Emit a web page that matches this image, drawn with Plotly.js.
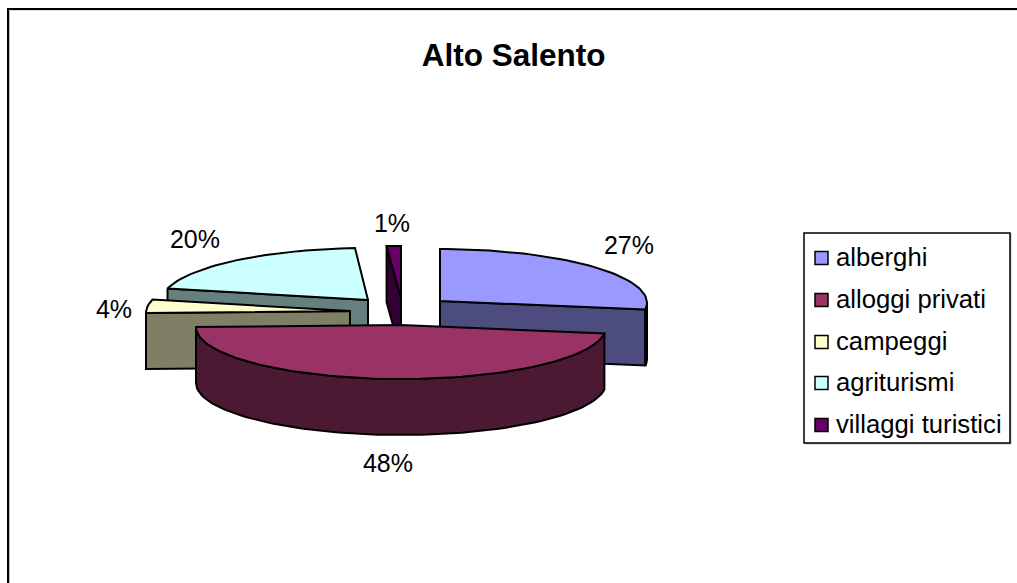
<!DOCTYPE html>
<html><head><meta charset="utf-8">
<script src="https://cdn.plot.ly/plotly-3.0.1.min.js"></script>
<style>html,body{margin:0;padding:0;background:#fff}#c{width:1017px;height:583px}</style>
</head><body><div id="c"></div>
<script>
var chartTitle = "Alto Salento";
var categories = ["alberghi","alloggi privati","campeggi","agriturismi","villaggi turistici"];
var percentages = [27,48,4,20,1];
var topColors = ["#9999FF","#993366","#FFFFCC","#CCFFFF","#660066"];
var sideColors = ["#4C4C7F","#4C1933","#7F7F66","#667F7F","#330033"];
var apexX = [440,401,350,368,401];
var apexY = [301,325,311,300,298];
var radiusX = [207,205,204,207,230];
var labelX = [629,388,114,195,392];
var labelY = [247.5,465.5,311.5,241.5,225.5];
var legendY = [258,300,342,383,425];
var legendTextY = [259.5,301.5,343.5,384.5,426.5];
var drawOrder = [3,4,0,2,1];

var RB=54, RF=52, DEPTH=56, OFF=2;
var FONT="Liberation Sans, Arial, sans-serif";
function rim(i,deg){
  var a=deg*Math.PI/180, c=Math.cos(a);
  return [apexX[i]+radiusX[i]*Math.sin(a), apexY[i]+OFF-(c>0?RB:RF)*c];
}
var starts=[], s=0;
percentages.forEach(function(p){starts.push(s); s+=p*3.6;});
function arc(i,from,to){
  var pts=[], n=Math.max(2,Math.ceil(Math.abs(to-from)/2));
  for(var k=0;k<=n;k++) pts.push(rim(i,from+(to-from)*k/n));
  return pts;
}
function poly(pts,color,name){
  var x=pts.map(function(p){return p[0]}), y=pts.map(function(p){return p[1]});
  x.push(x[0]); y.push(y[0]);
  return {type:"scatter",mode:"lines",x:x,y:y,fill:"toself",fillcolor:color,name:name,
    line:{color:"#000",width:2},hoverinfo:"name",showlegend:false};
}
function drop(pts){return pts.map(function(p){return [p[0],p[1]+DEPTH]}).reverse();}
var traces=[];
drawOrder.forEach(function(i){
  var a0=starts[i], a1=a0+percentages[i]*3.6, apex=[apexX[i],apexY[i]], nm=categories[i];
  if(a0>=180){
    var e=rim(i,a0), w=[e,apex];
    traces.push(poly(w.concat(drop(w)),sideColors[i],nm));
  }
  if(i===0){
    var e2=rim(i,a1), w2=[apex,e2];
    traces.push(poly(w2.concat(drop(w2)),sideColors[i],nm));
    var o0=arc(i,90,a1);
    traces.push(poly(o0.concat(drop(o0)),"#000",nm));
  }
  if(i===1){
    var o=arc(i,a0,a1);
    traces.push(poly(o.concat(drop(o)),sideColors[i],nm));
  }
  traces.push(poly([apex].concat(arc(i,a0,a1)),topColors[i],nm));
});
// legend swatches
traces.push({type:"scatter",mode:"markers",x:categories.map(function(){return 821.5}),y:legendY,
  marker:{symbol:"square",size:13,color:topColors,line:{color:"#000",width:1.5}},hoverinfo:"skip",showlegend:false,cliponaxis:false});
// legend texts
traces.push({type:"scatter",mode:"text",x:categories.map(function(){return 836}),y:legendTextY,
  text:categories,textposition:"middle right",textfont:{family:FONT,size:25.7,color:"#000"},hoverinfo:"text",showlegend:false,cliponaxis:false});
// percentage labels
traces.push({type:"scatter",mode:"text",x:labelX,y:labelY,
  text:percentages.map(function(p){return p+"%"}),textposition:"middle center",
  textfont:{family:FONT,size:25,color:"#000"},hoverinfo:"text",showlegend:false,cliponaxis:false});

var layout={width:1017,height:583,margin:{l:0,r:0,t:0,b:0},paper_bgcolor:"#fff",plot_bgcolor:"#fff",showlegend:false,
  xaxis:{range:[0,1017],visible:false,fixedrange:true},
  yaxis:{range:[583,0],visible:false,fixedrange:true},
  title:{text:"<b>"+chartTitle+"</b>",x:0.505,xanchor:"center",y:0.905,yanchor:"middle",font:{family:FONT,size:31.5,color:"#000"}},
  shapes:[
    {type:"line",x0:9.5,y0:10.5,x1:9.5,y1:583,line:{color:"#bbb",width:1},layer:"below"},
    {type:"line",x0:9,y0:10.5,x1:1017,y1:10.5,line:{color:"#ddd",width:1},layer:"below"},
    {type:"line",x0:8,y0:8,x1:8,y1:583,line:{color:"#000",width:2},layer:"below"},
    {type:"line",x0:7,y0:9,x1:1017,y1:9,line:{color:"#000",width:2},layer:"below"},
    {type:"rect",x0:805,y0:234,x1:1011,y1:444,line:{color:"#bbb",width:1},fillcolor:"#bbb",layer:"below"},
    {type:"rect",x0:804,y0:233,x1:1010,y1:443,line:{color:"#000",width:1.5},fillcolor:"#fff",layer:"below"}
  ]};
Plotly.newPlot("c",traces,layout,{displayModeBar:false,staticPlot:true});
</script></body></html>
